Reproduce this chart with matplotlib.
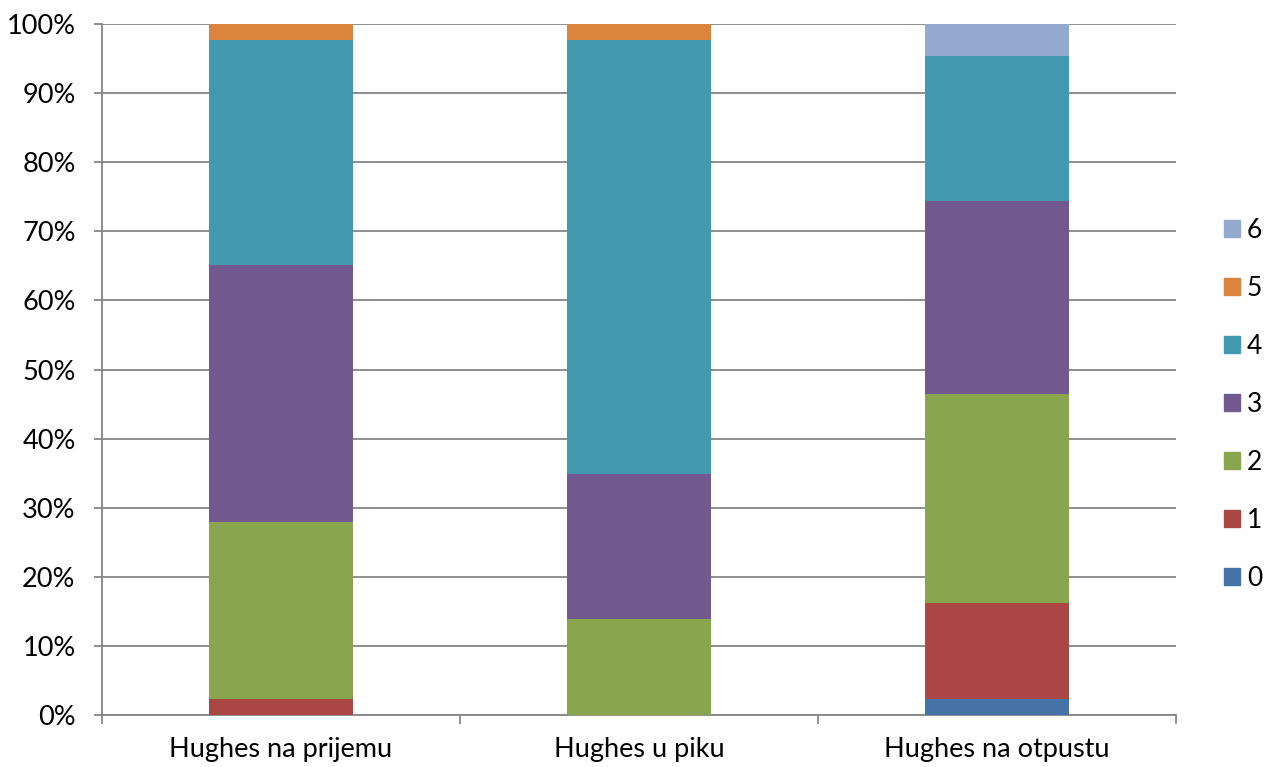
import numpy as np
import matplotlib.pyplot as plt
from matplotlib.patches import Patch

plt.rcParams['font.family'] = ['Lato', 'DejaVu Sans']

categories = ["Hughes na prijemu", "Hughes u piku", "Hughes na otpustu"]
grades = ["0", "1", "2", "3", "4", "5", "6"]

# patient counts per Hughes grade, per time point
counts = {
	"0": [0, 0, 1],
	"1": [1, 0, 6],
	"2": [11, 6, 13],
	"3": [16, 9, 12],
	"4": [14, 27, 9],
	"5": [1, 1, 0],
	"6": [0, 0, 2],
}

colors = ["#4572A7", "#AA4643", "#89A54E", "#71588F", "#4198AF", "#DB843D", "#93A9CF"]

def main():
	data = np.array([counts[g] for g in grades], dtype=float)
	totals = data.sum(axis=0)
	pct = data / totals * 100

	fig = plt.figure(figsize=(12.66, 7.67), dpi=100)
	ax = fig.add_axes([102 / 1266, 52 / 767, 1074 / 1266, 691 / 767])

	x = np.arange(len(categories))
	bottom = np.zeros(len(categories))
	for i, g in enumerate(grades):
		ax.bar(x, pct[i], width=0.4, bottom=bottom, color=colors[i], zorder=3)
		bottom += pct[i]

	ax.set_xlim(-0.5, 2.5)
	ax.set_ylim(0, 100)
	ax.set_yticks(np.arange(0, 101, 10))
	ax.set_yticklabels([f"{v}%" for v in range(0, 101, 10)])
	ax.yaxis.grid(True, color="#868686", linewidth=1.3, zorder=0)

	ax.set_xticks(x)
	ax.set_xticklabels(categories)
	ax.set_xticks([-0.5, 0.5, 1.5, 2.5], minor=True)
	ax.tick_params(axis="x", which="major", length=0, pad=16, labelsize=19.5)
	ax.tick_params(axis="x", which="minor", length=6.5, direction="out", color="#868686", width=1.3)
	ax.tick_params(axis="y", length=6, direction="out", color="#868686", width=1.3, labelsize=19.5, pad=13)

	for side in ["top", "right"]:
		ax.spines[side].set_visible(False)
	for side in ["left", "bottom"]:
		ax.spines[side].set_color("#868686")
		ax.spines[side].set_linewidth(1.3)

	handles = [Patch(color=colors[i], label=grades[i]) for i in range(len(grades))][::-1]
	fig.legend(handles=handles, loc="center left", bbox_to_anchor=(1224 / 1266, 1 - 404.5 / 767),
		frameon=False, fontsize=19, handlelength=0.62, handleheight=0.62,
		handletextpad=0.25, labelspacing=1.25, borderpad=0, borderaxespad=0)

	fig.savefig("out.png", dpi=100)

if __name__ == "__main__":
	main()
